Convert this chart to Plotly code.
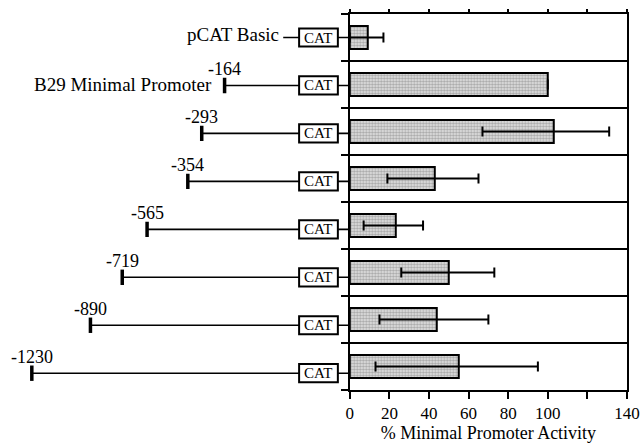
import plotly.graph_objects as go

# ---------------- data ----------------
construct_names = ["pCAT Basic", "B29 Minimal Promoter", "-293", "-354",
                   "-565", "-719", "-890", "-1230"]
promoter_labels = [None, "-164", "-293", "-354", "-565", "-719", "-890", "-1230"]
activity = [9, 100, 103, 43, 23, 50, 44, 55]          # % minimal promoter activity
err_plus = [8, 0, 28, 22, 14, 23, 26, 40]
err_minus = [9, 0, 36, 24, 16, 24, 29, 42]
# schematic start of each promoter fragment in diagram units
fragment_start = [None, 222, 199, 185, 144, 119, 87, 28]
x_tickvals = [0, 20, 40, 60, 80, 100, 120, 140]
x_ticktext = ["0", "20", "40", "60", "80", "100", "", "140"]

# ---------------- style constants ----------------
FONT = "Liberation Serif"
W, H = 640, 443
ML, MR, MT, MB = 0, 13, 14, 45
PW = W - ML - MR
AXIS_PX = 348
BOX_X0, BOX_X1 = 297, 336
BOX_HALF = 0.19
rows = list(range(len(activity)))

fig = go.Figure()

# bars
fig.add_trace(go.Bar(
    x=activity, y=rows, orientation="h", width=0.5,
    marker=dict(color="#c8c8c8", line=dict(color="black", width=2),
                pattern=dict(shape=".", fgcolor="#6e6e6e", bgcolor="#e4e4e4",
                             size=3, solidity=0.5)),
    error_x=dict(type="data", symmetric=False, array=err_plus,
                 arrayminus=err_minus, color="black", thickness=2, width=5),
    xaxis="x", yaxis="y", showlegend=False, hoverinfo="skip"))

# invisible trace for top tick axis
fig.add_trace(go.Scatter(x=[0, 140], y=[0, 0], mode="markers",
                         marker=dict(opacity=0), xaxis="x3", yaxis="y",
                         showlegend=False, hoverinfo="skip"))

# promoter fragment lines
lx, ly = [], []
for r, s in zip(rows, fragment_start):
    if s is not None:
        lx += [s, BOX_X0, None]
        ly += [r, r, None]
# line next to "pCAT Basic"
lx += [281, BOX_X0, None]
ly += [0, 0, None]
# connectors box -> axis
for r in rows:
    lx += [BOX_X1, AXIS_PX, None]
    ly += [r, r, None]
fig.add_trace(go.Scatter(x=lx, y=ly, mode="lines",
                         line=dict(color="black", width=1.6),
                         xaxis="x2", yaxis="y2", showlegend=False, hoverinfo="skip"))

# start ticks
sx = [s for s in fragment_start if s is not None]
sy = [r for r, s in zip(rows, fragment_start) if s is not None]
fig.add_trace(go.Scatter(x=sx, y=sy, mode="markers",
                         marker=dict(symbol="line-ns", size=11,
                                     line=dict(color="black", width=3.5)),
                         xaxis="x2", yaxis="y2", showlegend=False, hoverinfo="skip"))

shapes = []
annotations = []
for r in rows:
    shapes.append(dict(type="rect", xref="x2", yref="y2",
                       x0=BOX_X0, x1=BOX_X1, y0=r - BOX_HALF, y1=r + BOX_HALF,
                       line=dict(color="black", width=2), fillcolor="white",
                       layer="above"))
    annotations.append(dict(x=(BOX_X0 + BOX_X1) / 2, y=r, xref="x2", yref="y2",
                            text="CAT", showarrow=False,
                            font=dict(family=FONT, size=15, color="black"),
                            xanchor="center", yanchor="middle", yshift=0))

for r, s, lab in zip(rows, fragment_start, promoter_labels):
    if s is not None:
        annotations.append(dict(x=s, y=r, xref="x2", yref="y2", text=lab,
                                showarrow=False,
                                font=dict(family=FONT, size=18, color="black"),
                                xanchor="center", yanchor="middle", yshift=16))

annotations.append(dict(x=279, y=0, xref="x2", yref="y2", text=construct_names[0],
                        showarrow=False, font=dict(family=FONT, size=19, color="black"),
                        xanchor="right", yanchor="middle", yshift=3))
annotations.append(dict(x=211, y=1, xref="x2", yref="y2", text=construct_names[1],
                        showarrow=False, font=dict(family=FONT, size=19, color="black"),
                        xanchor="right", yanchor="middle", yshift=1))

fig.update_layout(
    width=W, height=H,
    margin=dict(l=ML, r=MR, t=MT, b=MB),
    paper_bgcolor="white", plot_bgcolor="rgba(0,0,0,0)",
    font=dict(family=FONT, size=18, color="black"),
    showlegend=False,
    bargap=0,
    xaxis=dict(domain=[AXIS_PX / PW, 1], range=[0, 140], anchor="y",
               tickmode="array", tickvals=x_tickvals, ticktext=x_ticktext,
               ticks="outside", ticklen=7, tickwidth=2, tickcolor="black",
               ticklabeloverflow="allow",
               showline=True, linewidth=2, linecolor="black", mirror=True,
               showgrid=False, zeroline=False,
               tickfont=dict(family=FONT, size=17, color="black"),
               title=dict(text="% Minimal Promoter Activity", standoff=7,
                          font=dict(family=FONT, size=18, color="black"))),
    xaxis3=dict(overlaying="x", side="top", range=[0, 140], anchor="y",
                tickmode="array", tickvals=x_tickvals, ticks="outside",
                ticklen=4, tickwidth=2, tickcolor="black",
                showticklabels=False, showline=False, showgrid=False,
                zeroline=False),
    yaxis=dict(domain=[0, 1], range=[7.5, -0.5], anchor="x",
               tickmode="array", tickvals=[r - 0.5 for r in rows] + [rows[-1] + 0.5],
               ticks="outside", ticklen=7, tickwidth=2, tickcolor="black",
               showticklabels=False, showgrid=True, gridcolor="black", gridwidth=2,
               showline=True, linewidth=2, linecolor="black", mirror=True,
               zeroline=False),
    xaxis2=dict(domain=[0, AXIS_PX / PW], range=[0, AXIS_PX], anchor="y2",
                visible=False),
    yaxis2=dict(domain=[0, 1], range=[7.35, -0.49], anchor="x2", visible=False),
    shapes=shapes,
    annotations=annotations,
)

fig.write_html("out.html")
